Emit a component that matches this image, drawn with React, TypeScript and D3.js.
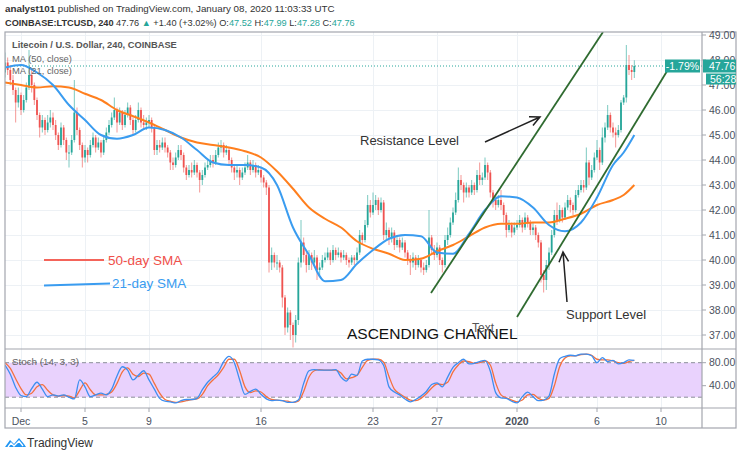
import React from 'react';
import * as d3 from 'd3';

// ---------- DATA ----------
const firstOpen = 47.5;
const closes = [
  47.9, 47.6, 47.2, 46.8, 46.3, 46.6,
  46.0, 46.4, 46.9, 47.4, 47.0, 46.4,
  45.8, 45.3, 45.6, 45.2, 45.5, 45.7,
  45.4, 45.0, 44.6, 45.3, 44.8, 44.3,
  44.3, 44.8, 45.9, 45.2, 44.6, 44.1,
  44.4, 44.2, 44.6, 44.9, 44.5, 44.7,
  44.3, 44.8, 45.1, 45.4, 45.7, 46.0,
  45.5, 45.9, 45.4, 45.8, 46.1, 45.6,
  45.2, 45.6, 46.0, 45.5, 45.4, 45.5,
  45.6, 45.3, 44.4, 44.6, 44.5, 44.7,
  44.5, 44.3, 43.9, 43.8, 44.1, 44.4,
  44.2, 43.7, 43.4, 43.6, 43.5, 43.8,
  43.5, 43.2, 43.4, 43.7, 43.8, 44.0,
  43.9, 44.2, 44.5, 44.6, 44.3, 44.4,
  44.0, 43.7, 43.5, 43.6, 43.3, 43.5,
  43.7, 43.9, 43.6, 43.8, 43.5, 43.6,
  43.3, 43.1, 42.9, 39.9, 40.2, 39.9,
  39.9, 39.7, 38.5, 37.3, 37.9, 37.4,
  37.0, 37.6, 39.9, 40.7, 40.2, 39.8,
  40.2, 39.9, 40.1, 39.6, 39.7, 40.0,
  40.1, 40.3, 40.0, 40.4, 40.2, 40.3,
  40.1, 40.2, 40.0, 39.9, 40.1, 40.0,
  40.3, 41.0, 40.8, 41.4, 42.2, 41.9,
  42.2, 42.4, 42.0, 42.3, 41.0, 41.2,
  40.9, 41.1, 40.6, 40.8, 40.5, 40.7,
  40.3, 40.0, 39.9, 40.1, 39.8, 40.0,
  39.7, 39.6, 39.8, 40.9, 40.4, 40.2,
  40.5, 40.0, 39.8, 40.8, 41.0, 41.5,
  41.9, 42.4, 43.2, 43.0, 42.7, 42.9,
  42.7, 43.0, 42.8, 43.4, 43.2, 43.3,
  43.8, 43.5, 42.7, 42.4, 42.2, 42.4,
  42.2, 41.8, 41.2, 41.4, 41.1, 41.3,
  41.4, 41.6, 41.3, 41.7, 41.5, 41.2,
  41.3, 41.0, 40.7, 39.4, 39.2, 39.8,
  40.3, 41.0, 41.8, 41.6, 42.0, 41.7,
  42.1, 42.4, 42.2, 42.0, 42.6, 42.8,
  43.0, 42.9, 43.9, 43.3, 43.6, 44.1,
  44.4, 43.9, 44.9, 45.3, 45.8, 45.3,
  45.1, 45.0, 45.2, 46.3, 46.5, 47.8,
  47.6, 47.52, 47.76,
];
const highs = [
  48.3, 48.1, 47.8, 47.4, 46.9, 46.9,
  46.7, 46.6, 47.1, 48.4, 47.6, 47.1,
  46.5, 45.9, 45.8, 45.7, 45.8, 46.0,
  45.9, 45.6, 45.1, 45.5, 45.4, 44.9,
  44.6, 45.0, 47.2, 46.1, 45.3, 44.7,
  44.6, 44.5, 44.8, 45.1, 45.0, 44.9,
  44.8, 45.0, 45.3, 45.6, 45.9, 46.5,
  46.1, 46.1, 46.0, 46.0, 46.3, 46.2,
  45.7, 45.8, 46.3, 46.1, 45.8, 45.7,
  45.8, 45.7, 45.4, 44.8, 44.8, 44.9,
  44.9, 44.6, 44.4, 44.1, 44.3, 44.6,
  44.6, 44.3, 43.8, 43.8, 43.9, 44.0,
  43.9, 43.6, 43.6, 43.9, 44.0, 44.2,
  44.2, 44.4, 44.7, 44.8, 44.7, 44.6,
  44.5, 44.1, 43.8, 43.8, 43.7, 43.7,
  43.9, 44.2, 44.0, 44.0, 43.9, 43.8,
  43.7, 43.4, 43.2, 43.0, 40.5, 40.3,
  40.2, 40.0, 39.8, 38.6, 38.1, 38.0,
  37.5, 37.8, 40.1, 41.6, 40.9, 40.4,
  40.4, 40.3, 40.4, 40.2, 39.9, 40.2,
  40.3, 40.5, 40.4, 40.6, 40.5, 40.5,
  40.4, 40.4, 40.3, 40.1, 40.2, 40.2,
  40.5, 41.2, 41.1, 41.6, 42.6, 42.4,
  42.7, 42.6, 42.5, 42.5, 42.4, 41.5,
  41.3, 41.3, 41.2, 41.0, 40.9, 40.9,
  40.8, 40.4, 40.2, 40.3, 40.2, 40.2,
  40.1, 39.9, 40.0, 42.0, 41.0, 40.6,
  40.7, 40.6, 40.1, 41.0, 41.3, 41.7,
  42.1, 42.7, 43.7, 43.4, 43.1, 43.1,
  43.0, 43.2, 43.1, 43.6, 43.9, 43.5,
  44.1, 43.9, 43.6, 42.8, 42.6, 42.6,
  42.8, 42.3, 41.9, 41.6, 41.5, 41.5,
  41.6, 41.8, 41.7, 41.9, 41.8, 41.6,
  41.5, 41.4, 41.1, 40.8, 39.6, 40.0,
  40.5, 41.2, 42.0, 42.3, 42.2, 42.1,
  42.3, 42.6, 42.5, 42.3, 42.8, 43.0,
  43.2, 43.2, 44.5, 44.0, 43.8, 44.3,
  44.8, 44.5, 45.3, 45.5, 46.2, 45.9,
  45.5, 45.3, 45.4, 46.4, 46.6, 48.6,
  48.2, 47.8, 47.99,
];
const lows = [
  47.3, 47.4, 47.0, 46.6, 45.5, 46.1,
  45.8, 45.9, 46.3, 46.8, 46.7, 46.2,
  45.6, 44.9, 45.1, 45.0, 45.1, 45.3,
  45.2, 44.8, 44.4, 44.5, 44.6, 44.0,
  43.7, 44.2, 44.7, 45.0, 44.4, 43.7,
  43.9, 43.9, 44.1, 44.5, 44.3, 44.4,
  44.1, 44.2, 44.7, 45.0, 45.3, 45.6,
  45.1, 45.4, 45.2, 45.3, 45.7, 45.4,
  45.0, 45.1, 45.5, 45.3, 45.2, 45.2,
  45.3, 45.1, 44.2, 44.2, 44.3, 44.4,
  44.3, 44.1, 43.6, 43.6, 43.7, 44.0,
  44.0, 43.5, 43.2, 43.3, 43.3, 43.4,
  43.3, 42.7, 43.0, 43.3, 43.6, 43.7,
  43.7, 43.8, 44.1, 44.3, 44.1, 44.2,
  43.8, 43.5, 43.2, 43.3, 43.0, 43.2,
  43.4, 43.6, 43.4, 43.5, 43.3, 43.4,
  43.1, 42.9, 42.6, 39.5, 39.6, 39.7,
  39.6, 39.5, 38.1, 37.0, 37.1, 36.8,
  36.5, 36.7, 37.4, 39.7, 39.9, 39.5,
  39.6, 39.6, 39.8, 39.2, 39.4, 39.6,
  39.9, 40.0, 39.8, 39.9, 40.0, 40.1,
  39.9, 40.0, 39.8, 39.7, 39.8, 39.8,
  39.9, 40.2, 40.6, 40.7, 41.3, 41.7,
  41.8, 42.0, 41.8, 41.9, 40.8, 40.8,
  40.6, 40.7, 40.4, 40.5, 40.3, 40.4,
  40.1, 39.8, 39.4, 39.7, 39.6, 39.7,
  39.5, 39.4, 39.5, 39.7, 40.2, 40.0,
  40.1, 39.8, 39.5, 39.7, 40.6, 40.9,
  41.4, 41.8, 42.3, 42.8, 42.3, 42.5,
  42.5, 42.6, 42.6, 42.7, 43.0, 43.0,
  43.2, 43.2, 42.5, 42.1, 42.0, 42.1,
  42.0, 41.5, 40.9, 41.1, 40.9, 41.0,
  41.2, 41.3, 41.1, 41.2, 41.3, 41.0,
  41.0, 40.8, 40.5, 39.1, 38.7, 38.8,
  39.6, 40.2, 40.9, 41.4, 41.5, 41.5,
  41.6, 42.0, 41.9, 41.8, 41.9, 42.5,
  42.7, 42.7, 42.8, 43.0, 43.2, 43.5,
  44.0, 43.6, 43.8, 44.7, 45.2, 45.1,
  44.9, 44.5, 44.9, 45.1, 46.2, 46.3,
  47.4, 47.2, 47.28,
];

// Moving averages, sampled at candle indices (4h bars from Nov 30 00:00 UTC)
const maIdx = [0, 6, 12, 18, 24, 30, 36, 42, 48, 54, 60, 66, 72, 78, 84, 90, 96, 102, 108, 114,
  120, 126, 132, 138, 144, 150, 156, 162, 168, 174, 180, 186, 192, 198, 204, 210, 216, 222, 228, 232, 236];
const ma50 = [47.1, 47.0, 46.9, 46.95, 46.9, 46.65, 46.4, 46.0, 45.75, 45.5, 45.2, 44.9, 44.7, 44.6,
  44.5, 44.35, 44.1, 43.55, 42.85, 42.1, 41.65, 41.3, 40.75, 40.45, 40.25, 40.0, 40.05, 40.35, 40.6,
  40.95, 41.3, 41.45, 41.45, 41.5, 41.5, 41.65, 41.85, 42.2, 42.4, 42.6, 43.0];
const ma21 = [47.7, 47.8, 47.5, 47.0, 46.2, 45.6, 45.0, 44.85, 45.0, 45.3, 45.2, 44.9, 44.4, 43.9,
  43.8, 43.8, 43.7, 43.0, 41.3, 40.2, 39.15, 39.2, 39.85, 40.4, 40.85, 41.0, 40.95, 40.3, 40.25,
  41.05, 42.0, 42.55, 42.5, 42.1, 41.4, 41.15, 41.5, 42.5, 43.8, 44.3, 45.0];

// Stochastic (14,3,3), one value every two bars
const stochK = [
  76, 60, 37, 23, 21, 35, 46, 34, 21, 24,
  22, 24, 20, 17, 50, 38, 21, 24, 27, 24,
  34, 57, 73, 67, 50, 58, 66, 50, 34, 18,
  13, 12, 10, 14, 16, 16, 18, 33, 46, 55,
  64, 82, 91, 80, 50, 25, 30, 34, 25, 17,
  14, 15, 14, 11, 11, 15, 44, 66, 68, 67,
  67, 67, 68, 55, 48, 60, 58, 83, 86, 86,
  85, 75, 38, 29, 24, 17, 12, 16, 22, 30,
  42, 45, 38, 55, 72, 80, 86, 78, 79, 82,
  84, 65, 28, 19, 18, 13, 10, 21, 29, 21,
  14, 15, 22, 60, 87, 91, 93, 92, 95, 95,
  92, 80, 89, 82, 84, 78, 80, 85, 84,
];
const stochD = [
  80, 70, 52, 35, 24, 27, 38, 42, 32, 24,
  22, 23, 22, 19, 32, 45, 33, 24, 24, 25,
  29, 44, 64, 71, 60, 56, 62, 60, 44, 27,
  16, 13, 11, 12, 14, 16, 17, 25, 40, 50,
  59, 72, 86, 86, 66, 38, 28, 31, 29, 21,
  16, 15, 14, 13, 11, 13, 30, 55, 66, 68,
  67, 67, 67, 62, 52, 54, 58, 72, 84, 86,
  86, 81, 56, 34, 26, 20, 15, 14, 18, 26,
  36, 43, 42, 46, 64, 76, 83, 82, 79, 80,
  83, 76, 45, 24, 19, 15, 12, 15, 24, 25,
  18, 15, 18, 40, 73, 88, 92, 92, 94, 95,
  93, 86, 85, 85, 83, 80, 79, 82, 84,
];

const priceTicks = [37, 38, 39, 40, 41, 42, 43, 44, 45, 46, 47, 48, 49];
const stochTicks = [80, 40];
const dateTicks: [string, string][] = [
  ['2019-12-01', 'Dec'], ['2019-12-05', '5'], ['2019-12-09', '9'], ['2019-12-16', '16'],
  ['2019-12-23', '23'], ['2019-12-27', '27'], ['2020-01-01', '2020'], ['2020-01-06', '6'], ['2020-01-10', '10'],
];
const lastPrice = 47.76;

// channel lines & arrows (time, price)
const channelUpper: [string, number][] = [['2019-12-26T15:00Z', 38.68], ['2020-01-06T09:00Z', 49.12]];
const channelLower: [string, number][] = [['2020-01-01T00:00Z', 37.72], ['2020-01-10T16:30Z', 47.88]];
const resistArrow: [string, number][] = [['2019-12-30T00:00Z', 44.72], ['2020-01-02T10:30Z', 45.72]];
const supportArrow: [string, number][] = [['2020-01-04T03:00Z', 38.32], ['2020-01-03T21:00Z', 40.32]];

// ---------- LAYOUT ----------
const W = 740, H = 456;
const L = 5, R = 702, RIGHT = 736;
const TOP = 32, MAINB = 349, STB = 408, AXB = 428;
const UP = '#26a69a', DOWN = '#ef5350';
const FONT = '"Liberation Sans", Arial, sans-serif';

const T0 = Date.UTC(2019, 10, 30);
const H4 = 4 * 3600 * 1000;
const tAt = (i: number) => new Date(T0 + i * H4);

export default function App() {
  const x = d3.scaleUtc().domain([new Date(T0), new Date(Date.UTC(2020, 0, 10))]).range([L, 661]);
  const y = d3.scaleLinear().domain([37, 49]).range([335, 35]);
  const ys = d3.scaleLinear().domain([0, 100]).range([408.7, 351.2]);

  const candles = closes.map((c, i) => {
    const o = i === 0 ? firstOpen : closes[i - 1];
    const h = Math.max(highs[i], o, c);
    const l = Math.min(lows[i], o, c);
    return { t: tAt(i), o, h, l, c };
  });

  const maLine = d3.line<number>()
    .x((_, k) => x(tAt(maIdx[k])))
    .y((v) => y(v))
    .curve(d3.curveMonotoneX);
  const stLine = d3.line<number>()
    .x((_, j) => x(tAt(j * 2)))
    .y((v) => ys(v))
    .curve(d3.curveMonotoneX);

  const P = (p: [string, number]) => [x(new Date(p[0])), y(p[1])];

  const arrow = (a: [string, number][]) => {
    const [x1, y1] = P(a[0]);
    const [x2, y2] = P(a[1]);
    const ang = Math.atan2(y2 - y1, x2 - x1);
    const len = 11, spread = 0.45;
    const hx1 = x2 - len * Math.cos(ang - spread), hy1 = y2 - len * Math.sin(ang - spread);
    const hx2 = x2 - len * Math.cos(ang + spread), hy2 = y2 - len * Math.sin(ang + spread);
    return `M${x1},${y1}L${x2},${y2}M${hx1},${hy1}L${x2},${y2}L${hx2},${hy2}`;
  };

  const chan = (a: [string, number][]) => {
    const [x1, y1] = P(a[0]);
    const [x2, y2] = P(a[1]);
    return `M${x1},${y1}L${x2},${y2}`;
  };

  const bw = 1.8;
  const teal = '#26a69a';
  const axisText = '#4c525e';

  return (
    <svg width={W} height={H} style={{ position: 'absolute', left: 0, top: 0, background: '#fff' }} fontFamily={FONT}>
      <defs>
        <clipPath id="mainClip"><rect x={L} y={TOP} width={R - L} height={MAINB - TOP} /></clipPath>
        <clipPath id="stClip"><rect x={L} y={MAINB} width={R - L} height={STB - MAINB} /></clipPath>
      </defs>
      <rect x={0} y={0} width={W} height={H} fill="#fff" />

      {/* header */}
      <text x={5} y={12} fontSize={9.8} fill="#333">
        <tspan fontWeight="bold">analyst101</tspan> published on TradingView.com, January 08, 2020 11:03:33 UTC
      </text>
      <text x={5} y={26} fontSize={9.2} fill="#333">
        <tspan fontWeight="bold">COINBASE:LTCUSD, 240</tspan> 47.76 <tspan fill={teal}>▲</tspan> +1.40 (+3.02%) O:<tspan fill={teal}>47.52</tspan> H:<tspan fill={teal}>47.99</tspan> L:<tspan fill={teal}>47.28</tspan> C:<tspan fill={teal}>47.76</tspan>
      </text>

      {/* grid */}
      <g stroke="#edf1f5" strokeWidth={1}>
        {priceTicks.map((p) => (
          <line key={'hg' + p} x1={L} x2={R} y1={Math.round(y(p)) + 0.5} y2={Math.round(y(p)) + 0.5} />
        ))}
        {dateTicks.map(([d]) => {
          const xx = Math.round(x(new Date(d + 'T00:00Z'))) + 0.5;
          return <line key={'vg' + d} x1={xx} x2={xx} y1={TOP} y2={STB} />;
        })}
      </g>

      {/* last price dotted line */}
      <line x1={L} x2={R} y1={y(lastPrice)} y2={y(lastPrice)} stroke={teal} strokeWidth={1} strokeDasharray="1,2" />

      {/* candles */}
      <g clipPath="url(#mainClip)">
        {candles.map((d, i) => {
          const cx = x(d.t);
          const col = d.c >= d.o ? UP : DOWN;
          const top = y(Math.max(d.o, d.c));
          const bh = Math.max(1, y(Math.min(d.o, d.c)) - top);
          return (
            <g key={i}>
              <line x1={cx} x2={cx} y1={y(d.h)} y2={y(d.l)} stroke={col} strokeWidth={1} strokeOpacity={0.6} />
              <rect x={cx - bw / 2} y={top} width={bw} height={bh} fill={col} />
            </g>
          );
        })}
        <path d={maLine(ma50) || ''} fill="none" stroke="#ff7f1e" strokeWidth={2} />
        <path d={maLine(ma21) || ''} fill="none" stroke="#3a9cf0" strokeWidth={2} />
        <path d={chan(channelUpper)} stroke="#2f6b30" strokeWidth={1.8} fill="none" />
        <path d={chan(channelLower)} stroke="#2f6b30" strokeWidth={1.8} fill="none" />
        <path d={arrow(resistArrow)} stroke="#222" strokeWidth={1.5} fill="none" />
        <path d={arrow(supportArrow)} stroke="#222" strokeWidth={1.5} fill="none" />
      </g>

      {/* legends in chart */}
      <text x={12} y={48} fontSize={9.3} fill="#555" fontWeight={600}>Litecoin / U.S. Dollar, 240, COINBASE</text>
      <text x={12} y={62} fontSize={9.4} fill="#666">MA (50, close)</text>
      <text x={12} y={74} fontSize={9.4} fill="#666">MA (21, close)</text>

      {/* annotations */}
      <text x={360} y={145} fontSize={13} fill="#333">Resistance Level</text>
      <text x={566} y={319} fontSize={13} fill="#333">Support Level</text>
      <text x={347} y={339} fontSize={15.5} fill="#111">ASCENDING CHANNEL</text>
      <text x={472} y={332} fontSize={12} fill="#555">Text</text>

      <line x1={44} x2={104} y1={260} y2={260} stroke="#f4645a" strokeWidth={2} />
      <text x={108} y={265} fontSize={13.5} fill="#f0504a">50-day SMA</text>
      <line x1={44} x2={110} y1={285.5} y2={283.5} stroke="#3a9cf0" strokeWidth={2} />
      <text x={112} y={288} fontSize={13.5} fill="#3a9cf0">21-day SMA</text>

      {/* stoch pane */}
      <rect x={L} y={ys(80)} width={R - L} height={ys(20) - ys(80)} fill="#e9d2fd" />
      <g stroke="#8a8e99" strokeWidth={1} strokeDasharray="4,3">
        <line x1={L} x2={R} y1={ys(80)} y2={ys(80)} />
        <line x1={L} x2={R} y1={ys(20)} y2={ys(20)} />
      </g>
      <g clipPath="url(#stClip)">
        <path d={stLine(stochD) || ''} fill="none" stroke="#f4703e" strokeWidth={1.3} />
        <path d={stLine(stochK) || ''} fill="none" stroke="#3d8ef0" strokeWidth={1.3} />
      </g>
      <text x={12} y={365} fontSize={9.8} fill="#666">Stoch (14, 3, 3)</text>

      {/* frame */}
      <g stroke="#a3a6ae" strokeWidth={1.2} fill="none">
        <rect x={L} y={TOP} width={RIGHT - L} height={AXB - TOP} />
        <line x1={L} x2={RIGHT} y1={MAINB} y2={MAINB} />
        <line x1={L} x2={RIGHT} y1={STB} y2={STB} />
        <line x1={R} x2={R} y1={TOP} y2={AXB} />
      </g>

      {/* price axis */}
      {priceTicks.map((p) => (
        <g key={'pt' + p}>
          <line x1={R} x2={R + 4} y1={y(p)} y2={y(p)} stroke="#a3a6ae" />
          <text x={R + 7} y={y(p)} dy="0.35em" fontSize={10.5} fill={axisText}>{p.toFixed(2)}</text>
        </g>
      ))}
      {stochTicks.map((p) => (
        <g key={'st' + p}>
          <line x1={R} x2={R + 4} y1={ys(p)} y2={ys(p)} stroke="#a3a6ae" />
          <text x={R + 7} y={ys(p)} dy="0.35em" fontSize={10.5} fill={axisText}>{p.toFixed(2)}</text>
        </g>
      ))}

      {/* price labels */}
      <rect x={665} y={y(lastPrice) - 6.5} width={35} height={13} fill={teal} />
      <text x={682.5} y={y(lastPrice)} dy="0.35em" textAnchor="middle" fontSize={10.5} fill="#fff">-1.79%</text>
      <rect x={R + 1} y={y(lastPrice) - 6.5} width={RIGHT - R - 1} height={13} fill={teal} />
      <text x={R + 7} y={y(lastPrice)} dy="0.35em" fontSize={10.5} fill="#fff">{lastPrice.toFixed(2)}</text>
      <rect x={R + 4} y={y(lastPrice) + 7.5} width={RIGHT - R - 4} height={11} fill={teal} />
      <text x={R + 8} y={y(lastPrice) + 13} dy="0.35em" fontSize={10.5} fill="#fff">56:28</text>

      {/* date axis */}
      {dateTicks.map(([d, lab]) => {
        const xx = x(new Date(d + 'T00:00Z'));
        return (
          <g key={'dt' + d}>
            <line x1={xx} x2={xx} y1={STB} y2={STB + 4} stroke="#a3a6ae" />
            <text x={xx} y={421} dy="0.35em" textAnchor="middle" fontSize={10.5} fill={axisText}
              fontWeight={lab === '2020' ? 'bold' : 'normal'}>{lab}</text>
          </g>
        );
      })}

      {/* TradingView logo */}
      <g transform="translate(5,436)">
        <path d="M0,11 L5,4 L9,8 L14,2 L19,8 L21,11 Z" fill="#2196f3" />
        <path d="M3,11 L6,7 L9,10 L14,5 L18,10" fill="none" stroke="#fff" strokeWidth={1.3} />
      </g>
      <text x={27} y={447} fontSize={12} fill="#333">TradingView</text>
    </svg>
  );
}
